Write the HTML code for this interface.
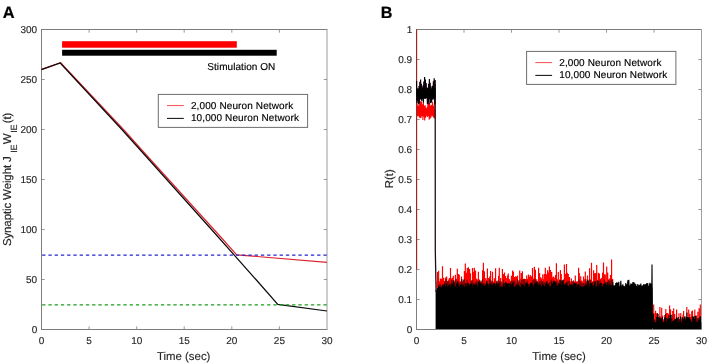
<!DOCTYPE html>
<html lang="en"><head><meta charset="utf-8"><title>Figure</title>
<style>html,body{margin:0;padding:0;background:#fff}svg{display:block}text{text-rendering:geometricPrecision}.t{stroke:#262626;stroke-width:.14px}</style></head>
<body>
<svg width="709" height="364" viewBox="0 0 709 364" font-family="'Liberation Sans', Arial, sans-serif">
<rect x="0" y="0" width="709" height="364" fill="#fff"/>
<text x="2.7" y="18.3" font-size="16.4" font-weight="bold" fill="#000" stroke="#000" stroke-width="0.2">A</text>
<text x="380.8" y="18.4" font-size="16.2" font-weight="bold" fill="#000" stroke="#000" stroke-width="0.2">B</text>
<g stroke="#7d7d7d" stroke-width="1" fill="none">
<path d="M41.0 29.5H327.3M41.0 329.5H327.3M41.5 29.5V329.5"/>
<path d="M327.0 29.0V330.0" stroke="#9c9c9c"/>
<path d="M89.1 329.5v-3.2M89.1 29.5v3.2M136.7 329.5v-3.2M136.7 29.5v3.2M184.2 329.5v-3.2M184.2 29.5v3.2M231.8 329.5v-3.2M231.8 29.5v3.2M279.4 329.5v-3.2M279.4 29.5v3.2M41.5 279.5h3.2M327.0 279.5h-3.2M41.5 229.5h3.2M327.0 229.5h-3.2M41.5 179.5h3.2M327.0 179.5h-3.2M41.5 129.5h3.2M327.0 129.5h-3.2M41.5 79.5h3.2M327.0 79.5h-3.2" stroke-width="0.8"/>
</g>
<g class="t" font-size="10" fill="#262626">
<g text-anchor="middle">
<text x="41.5" y="343.8">0</text>
<text x="89.1" y="343.8">5</text>
<text x="136.7" y="343.8">10</text>
<text x="184.2" y="343.8">15</text>
<text x="231.8" y="343.8">20</text>
<text x="279.4" y="343.8">25</text>
<text x="327" y="343.8">30</text>
</g><g text-anchor="end">
<text x="37.2" y="333.1">0</text>
<text x="37.2" y="283.1">50</text>
<text x="37.2" y="233.1">100</text>
<text x="37.2" y="183.1">150</text>
<text x="37.2" y="133.1">200</text>
<text x="37.2" y="83.1">250</text>
<text x="37.2" y="33.1">300</text>
</g></g>
<g stroke="#7d7d7d" stroke-width="1" fill="none">
<path d="M416.0 29.5H701.8M416.0 329.5H701.8M416.5 29.5V329.5"/>
<path d="M701.5 29.0V330.0" stroke="#9c9c9c"/>
<path d="M464 329.5v-3.2M464 29.5v3.2M511.5 329.5v-3.2M511.5 29.5v3.2M559 329.5v-3.2M559 29.5v3.2M606.5 329.5v-3.2M606.5 29.5v3.2M654 329.5v-3.2M654 29.5v3.2M416.5 299.5h3.2M701.5 299.5h-3.2M416.5 269.5h3.2M701.5 269.5h-3.2M416.5 239.5h3.2M701.5 239.5h-3.2M416.5 209.5h3.2M701.5 209.5h-3.2M416.5 179.5h3.2M701.5 179.5h-3.2M416.5 149.5h3.2M701.5 149.5h-3.2M416.5 119.5h3.2M701.5 119.5h-3.2M416.5 89.5h3.2M701.5 89.5h-3.2M416.5 59.5h3.2M701.5 59.5h-3.2" stroke-width="0.8"/>
</g>
<g class="t" font-size="10" fill="#262626">
<g text-anchor="middle">
<text x="416.5" y="343.8">0</text>
<text x="464" y="343.8">5</text>
<text x="511.5" y="343.8">10</text>
<text x="559" y="343.8">15</text>
<text x="606.5" y="343.8">20</text>
<text x="654" y="343.8">25</text>
<text x="701.5" y="343.8">30</text>
</g><g text-anchor="end">
<text x="412.2" y="333.1">0</text>
<text x="412.2" y="303.1">0.1</text>
<text x="412.2" y="273.1">0.2</text>
<text x="412.2" y="243.1">0.3</text>
<text x="412.2" y="213.1">0.4</text>
<text x="412.2" y="183.1">0.5</text>
<text x="412.2" y="153.1">0.6</text>
<text x="412.2" y="123.1">0.7</text>
<text x="412.2" y="93.1">0.8</text>
<text x="412.2" y="63.1">0.9</text>
<text x="412.2" y="33.1">1</text>
</g></g>
<g class="t" font-size="11.4" fill="#262626">
<text x="183.7" y="359.8" text-anchor="middle">Time (sec)</text>
<text x="559" y="359.8" text-anchor="middle">Time (sec)</text>
<text transform="translate(393 188.2) rotate(-90)">R(t)</text>
<text font-size="11.5" letter-spacing="-0.12" transform="translate(11.2 246.1) rotate(-90)">Synaptic Weight J <tspan font-size="9" dy="5.6" dx="0.4">IE</tspan><tspan dy="-5.6" dx="0.4">W</tspan><tspan font-size="9" dy="5.6" dx="0.6">IE</tspan><tspan dy="-5.6" dx="1.3">(t)</tspan></text>
</g>
<rect x="62.1" y="41.2" width="174.7" height="6.5" fill="#ff0000"/>
<rect x="62.1" y="49.8" width="214.6" height="5.9" fill="#000"/>
<text x="207.3" y="70.1" font-size="10" fill="#000" stroke="#000" stroke-width="0.15" textLength="68" lengthAdjust="spacing">Stimulation ON</text>
<polyline points="41.5,69.4 60.6,62.7 123.9,130 141.8,150 218.9,235 236.7,254.8 327,262.4" fill="none" stroke="#dc2430" stroke-width="1.2" stroke-linejoin="miter"/>
<polyline points="41.5,69.6 60.2,63 122.3,130 140.3,150 216.4,235 256.4,280 277.8,304.4 327,311" fill="none" stroke="#0a0a0a" stroke-width="1.2" stroke-linejoin="miter"/>
<path d="M42.15 255.1H327.0" stroke="#2424cc" stroke-width="1.2" stroke-dasharray="3.3 2.95" fill="none"/>
<path d="M42.15 304.8H327.0" stroke="#1c9c1c" stroke-width="1.2" stroke-dasharray="3.3 2.95" fill="none"/>
<rect x="158.3" y="94.4" width="149.3" height="33" fill="#fff" stroke="#6e6e6e" stroke-width="1"/>
<path d="M167.0 105.60000000000001h16.8" stroke="#f03a3a" stroke-width="0.9"/>
<path d="M167.0 118.4h16.8" stroke="#111" stroke-width="1.05"/>
<g font-size="10" fill="#000" stroke="#000" stroke-width="0.15"><text x="190.9" y="108.7" textLength="102.3" lengthAdjust="spacing">2,000 Neuron Network</text>
<text x="190.9" y="121.1" textLength="108" lengthAdjust="spacing">10,000 Neuron Network</text></g>
<rect x="436.6" y="281.5" width="176" height="9" fill="#ff0000"/>
<rect x="653.2" y="319.5" width="47.8" height="8" fill="#ff0000"/>
<polyline points="417.1,103.4 417.6,116.3 418,105.9 418.4,115.9 418.9,105 419.3,117.4 419.8,101.4 420.2,118.2 420.7,101.3 421.1,117.8 421.6,101.5 422,116 422.5,104.2 422.9,119.9 423.4,101.9 423.8,116.7 424.3,105.7 424.7,120.5 425.2,105.3 425.6,117.6 426.1,108.3 426.5,115.7 427,107.4 427.4,117 427.9,102.1 428.3,116.1 428.8,103.3 429.2,119.8 429.7,102.4 430.1,118.6 430.6,105.8 431,117.5 431.5,105.1 431.9,115.8 432.4,101.4 432.8,116.6 433.3,106.1 433.7,117.8 434.2,103.4 434.6,118.6 435,110" fill="none" stroke="#ff0000" stroke-width="1.05" stroke-linejoin="bevel"/>
<path d="M437.5 271.9V288M438.6 270.7V288M439.5 281.6V288M440.4 278.6V288M441.5 278.8V288M442.5 266.2V288M443.6 277.8V288M444.4 281V288M445.5 277.5V288M446.7 276.5V288M447.3 281.2V288M448.7 279.4V288M449.4 278.1V288M450.5 268.1V288M451.3 278.6V288M452.4 277.7V288M453.3 275.8V288M454.7 282.3V288M455.4 274.7V288M456.7 278.8V288M457.3 268.8V288M458.5 274.1V288M459.3 274.7V288M460.5 281.5V288M461.5 276.6V288M462.3 281.9V288M463.7 280V288M464.4 271V288M465.3 263.6V288M466.3 272.8V288M467.3 268.1V288M468.4 267.3V288M469.6 268.9V288M470.4 273.2V288M471.7 280.3V288M472.5 268.1V288M473.4 272.1V288M474.3 267.7V288M475.5 270.5V288M476.3 278.4V288M477.7 279.3V288M478.4 271.7V288M479.5 279.6V288M480.4 282.9V288M481.7 282.1V288M482.6 270.3V288M483.4 262.7V288M484.4 271.3V288M485.7 278.1V288M486.7 279.8V288M487.4 268.6V288M488.4 277.9V288M489.7 276.4V288M490.6 271.1V288M491.7 281.8V288M492.5 271.8V288M493.4 282.9V288M494.4 278.2V288M495.6 268.2V288M496.3 282V288M497.3 282.9V288M498.6 275.8V288M499.3 267.8V288M500.6 278.1V288M501.5 282.1V288M502.4 269.1V288M503.4 274.1V288M504.5 272.5V288M505.4 276V288M506.7 278V288M507.5 275.6V288M508.3 273.6V288M509.3 278.9V288M510.5 280.8V288M511.4 275.8V288M512.6 270.6V288M513.4 271.7V288M514.5 277.1V288M515.7 276.2V288M516.5 276.7V288M517.5 275.4V288M518.7 282.4V288M519.7 270.6V288M520.7 278.7V288M521.3 272.9V288M522.4 271.2V288M523.6 278.8V288M524.6 278.7V288M525.7 279.1V288M526.7 275.4V288M527.7 278.8V288M528.5 274.5V288M529.3 276.8V288M530.3 275.1V288M531.3 276.2V288M532.5 267.9V288M533.6 278.5V288M534.4 266.8V288M535.4 269.8V288M536.7 279.3V288M537.3 280.9V288M538.6 267.8V288M539.6 272.9V288M540.7 277.3V288M541.3 278.3V288M542.7 274.5V288M543.5 279.3V288M544.3 273.9V288M545.3 267.8V288M546.4 274.3V288M547.6 270.3V288M548.3 272.6V288M549.4 266.5V288M550.5 270.1V288M551.7 272V288M552.5 277.5V288M553.4 276.6V288M554.7 277.5V288M555.6 274.9V288M556.4 263.2V288M557.3 279.3V288M558.3 272.1V288M559.7 279.4V288M560.4 270V288M561.3 274.1V288M562.7 280.7V288M563.4 279.5V288M564.4 264.6V288M565.5 273.7V288M566.5 264V288M567.3 272.8V288M568.3 273.9V288M569.5 277V288M570.6 282.4V288M571.4 278.4V288M572.3 281.2V288M573.3 282.5V288M574.6 282.1V288M575.3 275.5V288M576.7 282.1V288M577.5 281.4V288M578.6 267.7V288M579.3 273.1V288M580.7 276.3V288M581.6 280.4V288M582.3 281.7V288M583.5 276.5V288M584.3 279.3V288M585.3 271.5V288M586.4 282.9V288M587.5 275.4V288M588.6 281.1V288M589.6 268.3V288M590.4 279.5V288M591.5 262.8V288M592.4 281.5V288M593.6 270.3V288M594.5 273.2V288M595.7 272.9V288M596.7 265V288M597.7 280.2V288M598.4 272.7V288M599.4 273.4V288M600.5 278.7V288M601.7 277.8V288M602.6 272.4V288M603.5 262.5V288M604.5 274.3V288M605.3 274.4V288M606.7 266.6V288M607.7 272.6V288M608.6 279.4V288M609.4 278.5V288M610.5 275.1V288M611.6 259.6V288M612.6 279V288" fill="none" stroke="#ff0000" stroke-width="1.2"/>
<path d="M653.7 304.4V327.5M655 313.1V327.5M655.6 310.8V327.5M656.6 313.3V327.5M658 317.4V327.5M659 316.8V327.5M659.9 306.9V327.5M660.8 317.5V327.5M661.7 307.7V327.5M662.6 315.4V327.5M663.7 319.8V327.5M664.7 315.1V327.5M665.8 308.9V327.5M666.6 313V327.5M667.8 313V327.5M669.1 314V327.5M669.6 305.4V327.5M670.6 309.4V327.5M671.8 318.2V327.5M672.7 310.9V327.5M673.7 308.3V327.5M674.7 313.9V327.5M675.8 319V327.5M676.6 309.4V327.5M677.7 319.7V327.5M679 313.2V327.5M679.5 319.3V327.5M680.8 313V327.5M681.7 318.8V327.5M683 314.7V327.5M683.6 310.9V327.5M684.9 318.1V327.5M685.9 316.2V327.5M686.8 307.1V327.5M687.6 317.5V327.5M688.7 309.4V327.5M689.9 313.8V327.5M690.5 317.1V327.5M691.7 311.3V327.5M692.5 310.5V327.5M694.1 319.2V327.5M694.8 309.4V327.5M696.1 315.2V327.5M696.5 317.7V327.5M697.8 311.7V327.5M699.1 308.2V327.5M699.7 317.8V327.5M700.3 304.5V327" fill="none" stroke="#ff0000" stroke-width="1.15"/>
<path d="M416.6 269.5V29.5" stroke="#a02222" stroke-width="1.15" fill="none"/>
<path d="M435.6 290V329.1H652.4V287.6H446L439 290Z" fill="#000"/>
<rect x="653" y="322.5" width="48.3" height="6.5" fill="#000"/>
<polyline points="437,290 437.7,288.4 438.4,290 439.1,283.8 439.8,290 440.5,283.8 441.2,290 441.9,285.4 442.6,290 443.3,284.6 444,290 444.7,281.9 445.4,290 446.1,279.2 446.8,290 447.5,281.4 448.2,290 448.9,280.9 449.6,290 450.3,283.6 451,290 451.7,280 452.4,290 453.1,280.8 453.8,290 454.5,283.5 455.2,290 455.9,279.2 456.6,290 457.3,281.1 458,290 458.7,283.1 459.4,290 460.1,282.8 460.8,290 461.5,279.2 462.2,290 462.9,279.2 463.6,290 464.3,279.3 465,290 465.7,283.6 466.4,290 467.1,280.3 467.8,290 468.5,282.7 469.2,290 469.9,283.5 470.6,290 471.3,280.7 472,290 472.7,280.4 473.4,290 474.1,283.8 474.8,290 475.5,282.1 476.2,290 476.9,280.3 477.6,290 478.3,282.6 479,290 479.7,280.6 480.4,290 481.1,280.4 481.8,290 482.5,279 483.2,290 483.9,282.8 484.6,290 485.3,283.6 486,290 486.7,282.2 487.4,290 488.1,283.7 488.8,290 489.5,279.1 490.2,290 490.9,280.2 491.6,290 492.3,281.4 493,290 493.7,283.8 494.4,290 495.1,283.8 495.8,290 496.5,280.9 497.2,290 497.9,280.3 498.6,290 499.3,281.1 500,290 500.7,281.5 501.4,290 502.1,283.6 502.8,290 503.5,279.9 504.2,290 504.9,283 505.6,290 506.3,282.7 507,290 507.7,283.1 508.4,290 509.1,282.9 509.8,290 510.5,282 511.2,290 511.9,280.6 512.6,290 513.3,280.6 514,290 514.7,280.8 515.4,290 516.1,282.9 516.8,290 517.5,279.4 518.2,290 518.9,280 519.6,290 520.3,282.8 521,290 521.7,280.2 522.4,290 523.1,279.3 523.8,290 524.5,279.2 525.2,290 525.9,281.8 526.6,290 527.3,280.6 528,290 528.7,283.9 529.4,290 530.1,283.4 530.8,290 531.5,283.9 532.2,290 532.9,280.3 533.6,290 534.3,279.4 535,290 535.7,279.5 536.4,290 537.1,281.5 537.8,290 538.5,282.5 539.2,290 539.9,281.2 540.6,290 541.3,280.2 542,290 542.7,281.1 543.4,290 544.1,282.1 544.8,290 545.5,282.4 546.2,290 546.9,282.7 547.6,290 548.3,283.2 549,290 549.7,282.3 550.4,290 551.1,279.6 551.8,290 552.5,283.2 553.2,290 553.9,280.5 554.6,290 555.3,281.8 556,290 556.7,280.9 557.4,290 558.1,282.7 558.8,290 559.5,280 560.2,290 560.9,280.2 561.6,290 562.3,280.2 563,290 563.7,279.8 564.4,290 565.1,283.4 565.8,290 566.5,281.9 567.2,290 567.9,280.6 568.6,290 569.3,281 570,290 570.7,284 571.4,290 572.1,281.5 572.8,290 573.5,280.2 574.2,290 574.9,283 575.6,290 576.3,282.3 577,290 577.7,284 578.4,290 579.1,279.5 579.8,290 580.5,281.4 581.2,290 581.9,283.1 582.6,290 583.3,283.2 584,290 584.7,283.6 585.4,290 586.1,279.2 586.8,290 587.5,280.5 588.2,290 588.9,279.6 589.6,290 590.3,279.9 591,290 591.7,283.9 592.4,290 593.1,281.9 593.8,290 594.5,283.7 595.2,290 595.9,280.9 596.6,290 597.3,283.3 598,290 598.7,281.2 599.4,290 600.1,280.3 600.8,290 601.5,282.9 602.2,290 602.9,283.7 603.6,290 604.3,279.5 605,290 605.7,282 606.4,290 607.1,282.1 607.8,290 608.5,280.1 609.2,290 609.9,280.8 610.6,290 611.3,279.7 612,290 612.7,280" fill="none" stroke="#000" stroke-opacity="0.5" stroke-width="0.8" stroke-linejoin="bevel"/>
<polyline points="416.6,100 416.6,81 416.6,88.6 417,103.3 417.4,88.9 417.8,101.2 418.2,88.6 418.6,104.6 419,86 419.4,103.5 419.8,81.8 420.2,99.1 420.6,79.4 421,99.7 421.4,83.8 421.8,101.1 422.2,87.5 422.6,99.1 423,85.4 423.4,102.4 423.8,81.4 424.2,98.6 424.6,76.9 425,99.1 425.4,79.4 425.8,98.5 426.2,83 426.6,97.9 427,87.4 427.4,104.1 427.8,87.9 428.2,102.8 428.6,83.7 429,104.3 429.4,79.1 429.8,98.9 430.2,82.7 430.6,102.9 431,86.3 431.4,102.4 431.8,88.7 432.2,100.2 432.6,85.7 433,98.7 433.4,81.3 433.8,99.5 434.2,78.3 434.6,104.5 435,82.4 435.2,80 435.2,104" fill="none" stroke="#0c0008" stroke-width="1.2" stroke-linejoin="bevel"/>
<polyline points="436.3,290 436.8,290.5 437.3,290 437.8,288.2 438.3,290 438.8,286 439.3,290 439.8,287 440.3,290 440.8,286.6 441.3,290 441.8,287.5 442.3,290 442.8,284.5 443.3,290 443.8,286.4 444.3,290 444.8,283.9 445.3,290 445.8,286 446.3,290 446.8,284 447.3,290 447.8,287 448.3,290 448.8,285.3 449.3,290 449.8,284.6 450.3,290 450.8,287.2 451.3,290 451.8,283.7 452.3,290 452.8,283.7 453.3,290 453.8,280.3 454.3,290 454.8,286.4 455.3,290 455.8,286.7 456.3,290 456.8,283.5 457.3,290 457.8,281.3 458.3,290 458.8,286.8 459.3,290 459.8,285.5 460.3,290 460.8,285 461.3,290 461.8,284 462.3,290 462.8,286.9 463.3,290 463.8,285 464.3,290 464.8,287.1 465.3,290 465.8,283.4 466.3,290 466.8,287.1 467.3,290 467.8,283 468.3,290 468.8,284.5 469.3,290 469.8,285.5 470.3,290 470.8,283.5 471.3,290 471.8,283.8 472.3,290 472.8,286.5 473.3,290 473.8,283.6 474.3,290 474.8,284.6 475.3,290 475.8,284.5 476.3,290 476.8,283.9 477.3,290 477.8,286.7 478.3,290 478.8,281.3 479.3,290 479.8,283 480.3,290 480.8,283.3 481.3,290 481.8,285.2 482.3,290 482.8,284.1 483.3,290 483.8,285.4 484.3,290 484.8,285.7 485.3,290 485.8,284.7 486.3,290 486.8,281.1 487.3,290 487.8,283.8 488.3,290 488.8,286.2 489.3,290 489.8,283.6 490.3,290 490.8,283.3 491.3,290 491.8,284.7 492.3,290 492.8,284.7 493.3,290 493.8,283 494.3,290 494.8,283.2 495.3,290 495.8,286.2 496.3,290 496.8,283 497.3,290 497.8,284.5 498.3,290 498.8,283.4 499.3,290 499.8,287.2 500.3,290 500.8,286.4 501.3,290 501.8,287.1 502.3,290 502.8,287 503.3,290 503.8,283.5 504.3,290 504.8,286.9 505.3,290 505.8,281.9 506.3,290 506.8,283.5 507.3,290 507.8,284 508.3,290 508.8,283.4 509.3,290 509.8,286.8 510.3,290 510.8,284 511.3,290 511.8,284.2 512.3,290 512.8,282.5 513.3,290 513.8,286.9 514.3,290 514.8,286.7 515.3,290 515.8,286.3 516.3,290 516.8,285.1 517.3,290 517.8,284.4 518.3,290 518.8,285.2 519.3,290 519.8,286.7 520.3,290 520.8,287.2 521.3,290 521.8,284.5 522.3,290 522.8,284 523.3,290 523.8,285.3 524.3,290 524.8,286.2 525.3,290 525.8,283.6 526.3,290 526.8,283 527.3,290 527.8,283.9 528.3,290 528.8,287.1 529.3,290 529.8,285.7 530.3,290 530.8,282.8 531.3,290 531.8,282.6 532.3,290 532.8,284.7 533.3,290 533.8,286.7 534.3,290 534.8,283.8 535.3,290 535.8,282.9 536.3,290 536.8,281.9 537.3,290 537.8,284.4 538.3,290 538.8,285.4 539.3,290 539.8,283.7 540.3,290 540.8,284.9 541.3,290 541.8,286.9 542.3,290 542.8,283.5 543.3,290 543.8,285.6 544.3,290 544.8,286.2 545.3,290 545.8,284 546.3,290 546.8,281.1 547.3,290 547.8,284.3 548.3,290 548.8,284.8 549.3,290 549.8,286 550.3,290 550.8,286.8 551.3,290 551.8,281.4 552.3,290 552.8,283.8 553.3,290 553.8,280.7 554.3,290 554.8,281.3 555.3,290 555.8,283.4 556.3,290 556.8,285.5 557.3,290 557.8,285.6 558.3,290 558.8,283.6 559.3,290 559.8,284.1 560.3,290 560.8,280.3 561.3,290 561.8,285.9 562.3,290 562.8,280.5 563.3,290 563.8,284.8 564.3,290 564.8,284.8 565.3,290 565.8,283.3 566.3,290 566.8,283 567.3,290 567.8,286.1 568.3,290 568.8,286.5 569.3,290 569.8,284 570.3,290 570.8,284.7 571.3,290 571.8,285.1 572.3,290 572.8,285.6 573.3,290 573.8,283.8 574.3,290 574.8,282.9 575.3,290 575.8,283.8 576.3,290 576.8,287 577.3,290 577.8,284.2 578.3,290 578.8,284.2 579.3,290 579.8,286.8 580.3,290 580.8,285.8 581.3,290 581.8,287.1 582.3,290 582.8,286.5 583.3,290 583.8,286.6 584.3,290 584.8,286 585.3,290 585.8,284.2 586.3,290 586.8,285.5 587.3,290 587.8,280.3 588.3,290 588.8,282.9 589.3,290 589.8,286.9 590.3,290 590.8,283.4 591.3,290 591.8,282.9 592.3,290 592.8,285.6 593.3,290 593.8,286 594.3,290 594.8,281.2 595.3,290 595.8,286.4 596.3,290 596.8,286.7 597.3,290 597.8,280.4 598.3,290 598.8,287 599.3,290 599.8,283.7 600.3,290 600.8,283 601.3,290 601.8,286.4 602.3,290 602.8,286.4 603.3,290 603.8,284.1 604.3,290 604.8,283.2 605.3,290 605.8,283.7 606.3,290 606.8,284.7 607.3,290 607.8,282.2 608.3,290 608.8,285.9 609.3,290 609.8,284.2 610.3,290 610.8,285 611.3,290 611.8,285.5 612.3,290 612.8,281.8 613.3,290 613.8,285.5 614.3,290 614.8,285.2 615.3,290 615.8,283 616.3,290 616.8,282.4 617.3,290 617.8,282.8 618.3,290 618.8,281.8 619.3,290 619.8,286.4 620.3,290 620.8,280.8 621.3,290 621.8,285.6 622.3,290 622.8,284.2 623.3,290 623.8,285.7 624.3,290 624.8,286.2 625.3,290 625.8,283 626.3,290 626.8,284.2 627.3,290 627.8,280.3 628.3,290 628.8,279.7 629.3,290 629.8,285.5 630.3,290 630.8,283.6 631.3,290 631.8,283.8 632.3,290 632.8,282.4 633.3,290 633.8,282.1 634.3,290 634.8,283.2 635.3,290 635.8,284.3 636.3,290 636.8,286 637.3,290 637.8,284.1 638.3,290 638.8,285.4 639.3,290 639.8,284.9 640.3,290 640.8,283.5 641.3,290 641.8,285.8 642.3,290 642.8,285.3 643.3,290 643.8,284 644.3,290 644.8,284.6 645.3,290 645.8,284.1 646.3,290 646.8,283.1 647.3,290 647.8,283.4 648.3,290 648.8,285.8 649.3,290 649.8,282.7 650.3,290 650.8,283.5 651.5,328.6 652,264.6 652.5,328.6" fill="none" stroke="#000" stroke-width="1.1" stroke-linejoin="bevel"/>
<path d="M435.2 84L435.3 250L436.1 292" fill="none" stroke="#1c1016" stroke-width="1.3"/>
<path d="M653.4 313.8V328.8M654 321.9V328.8M654.8 319.4V328.8M655.7 322.2V328.8M656.7 316.8V328.8M657.5 313.3V328.8M658.1 314.1V328.8M659.2 318V328.8M659.9 316.6V328.8M660.7 319V328.8M661.6 318.3V328.8M662.3 316.9V328.8M663.1 322.1V328.8M663.9 321.7V328.8M664.7 317.3V328.8M665.5 314.2V328.8M666.4 321.5V328.8M666.9 317.8V328.8M667.9 318.7V328.8M668.9 315.1V328.8M669.6 318V328.8M670.5 314.7V328.8M670.8 322.8V328.8M671.8 314.8V328.8M672.6 321V328.8M673.5 321.1V328.8M674.1 319.8V328.8M675.1 319.1V328.8M675.6 320.4V328.8M676.3 317.6V328.8M677.1 317.7V328.8M678.3 317.1V328.8M678.8 322.8V328.8M679.8 319.2V328.8M680.5 316.5V328.8M681.6 321.5V328.8M682.2 316.9V328.8M683.3 318.6V328.8M684 320.9V328.8M684.5 316.5V328.8M685.6 319.4V328.8M686.1 317V328.8M687 312.5V328.8M687.9 317V328.8M688.5 317.7V328.8M689.5 317.4V328.8M690.5 319.2V328.8M691.2 322.1V328.8M691.6 321.5V328.8M692.3 316.3V328.8M693.5 316.4V328.8M694 319.1V328.8M694.9 316.1V328.8M696 316.1V328.8M696.7 321.7V328.8M697.6 322.4V328.8M698 318.1V328.8M699.1 319.5V328.8M699.8 316.9V328.8M700.4 316.2V328.8" fill="none" stroke="#000" stroke-width="1.05"/>
<rect x="416.9" y="88.5" width="18.6" height="9.5" fill="#000"/>
<rect x="526.6" y="51.4" width="149.3" height="33" fill="#fff" stroke="#6e6e6e" stroke-width="1"/>
<path d="M535.3000000000001 62.599999999999994h16.8" stroke="#f03a3a" stroke-width="0.9"/>
<path d="M535.3000000000001 75.4h16.8" stroke="#111" stroke-width="1.05"/>
<g font-size="10" fill="#000" stroke="#000" stroke-width="0.15"><text x="559.2" y="65.7" textLength="102.3" lengthAdjust="spacing">2,000 Neuron Network</text>
<text x="559.2" y="78.1" textLength="108" lengthAdjust="spacing">10,000 Neuron Network</text></g>
</svg>
</body></html>
